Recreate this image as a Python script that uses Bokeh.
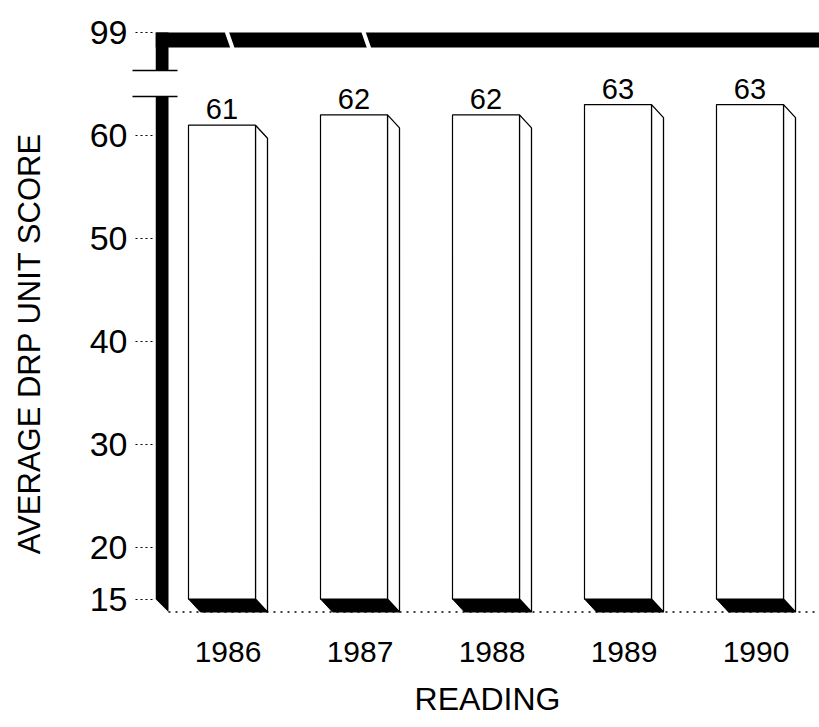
from bokeh.plotting import figure
from bokeh.layouts import column
from bokeh.models import FixedTicker, Range1d, ColumnDataSource
from bokeh.embed import file_html
from bokeh.resources import INLINE
from bokeh.core.properties import value

# ---------------- data ----------------
years = [1986, 1987, 1988, 1989, 1990]
year_labels = ["1986", "1987", "1988", "1989", "1990"]
scores = [61, 62, 62, 63, 63]
score_labels = ["61", "62", "62", "63", "63"]
low_ticks = [15, 20, 30, 40, 50, 60]
low_tick_labels = ["15", "20", "30", "40", "50", "60"]
high_ticks = [99]
high_tick_labels = ["99"]
y_title = "AVERAGE DRP UNIT SCORE"
x_title = "READING"

# ---------------- layout / style ----------------
FONT = "Liberation Sans"
W = 819
H_TOTAL = 727
LEFT = 155            # frame left (thick axis bar)
TOP_H = 72            # height of upper (99) panel
LOW_BOTTOM = 113      # bottom border of lower panel
PX_X = 132.0          # px per year
PX_Y = 10.3           # px per score unit
X_FIRST_PX = 227.5    # canvas px of first box centre
Y99_PX = 32
Y60_PX = 135

x_start = years[0] - (X_FIRST_PX - LEFT) / PX_X
x_end = years[0] + (W - X_FIRST_PX) / PX_X
xr = Range1d(x_start, x_end)

up_top = 99 + Y99_PX / PX_Y
up_bot = 99 - (TOP_H - Y99_PX) / PX_Y
low_frame_bottom_px = H_TOTAL - LOW_BOTTOM
low_top = 60 + (Y60_PX - TOP_H) / PX_Y
low_bot = 60 - (low_frame_bottom_px - Y60_PX) / PX_Y

upper_break = 99 - (70 - Y99_PX) / PX_Y
lower_break = 60 + (Y60_PX - 96) / PX_Y

FACE_L = -39.5 / PX_X
FACE_R = 27.5 / PX_X
DX = 12 / PX_X
DY = 13 / PX_Y
BASE = 15
AXIS_W = 13 / PX_X
LINE_T = 15 / PX_Y


def style_common(p):
    p.outline_line_color = None
    p.xgrid.visible = False
    p.ygrid.visible = False
    p.background_fill_color = "white"
    p.border_fill_color = "white"


def style_yaxis(ax, ticks, labels, minor):
    ax.ticker = FixedTicker(ticks=ticks, minor_ticks=minor)
    ax.major_label_overrides = {t: l for t, l in zip(ticks, labels)}
    ax.axis_line_color = None
    ax.major_tick_out = 20
    ax.major_tick_in = 0
    ax.major_tick_line_dash = "2 3"
    ax.major_tick_line_width = 1.2
    ax.minor_tick_out = 23
    ax.minor_tick_in = 22
    ax.minor_tick_line_width = 1.4
    ax.minor_tick_line_color = "black"
    ax.major_label_standoff = 5
    ax.major_label_text_font = FONT
    ax.major_label_text_font_size = "34px"
    ax.major_label_text_color = "black"


# ---------------- upper panel (99) ----------------
p_top = figure(width=W, height=TOP_H, x_range=xr, y_range=Range1d(up_bot, up_top),
               x_axis_location=None, toolbar_location=None, output_backend="svg",
               min_border=0, min_border_left=LEFT)
style_common(p_top)
style_yaxis(p_top.yaxis[0], high_ticks, high_tick_labels, [upper_break])

x0 = x_start
x1 = x_start + AXIS_W
# thick top frame line and upper part of the axis bar
p_top.quad(left=[x0], right=[x_end], top=[99], bottom=[99 - LINE_T],
           fill_color="black", line_color=None)
p_top.quad(left=[x0], right=[x1], top=[99], bottom=[upper_break],
           fill_color="black", line_color=None)
# small white break gaps in the top line
gap_x = [years[0] - 0.01, years[1] + 0.025]
p_top.segment(x0=gap_x, y0=[99 + 0.1] * 2,
              x1=[g + 0.045 for g in gap_x], y1=[99 - LINE_T - 0.1] * 2,
              line_color="white", line_width=4)

# ---------------- lower panel ----------------
p = figure(width=W, height=H_TOTAL - TOP_H, x_range=xr, y_range=Range1d(low_bot, low_top),
           toolbar_location=None, output_backend="svg",
           min_border=0, min_border_left=LEFT, min_border_bottom=LOW_BOTTOM)
style_common(p)
style_yaxis(p.yaxis[0], low_ticks, low_tick_labels, [lower_break])
p.yaxis.axis_label = y_title
p.yaxis.axis_label_text_font = FONT
p.yaxis.axis_label_text_font_size = "31px"
p.yaxis.axis_label_text_font_style = "normal"
p.yaxis.axis_label_text_color = "black"
p.yaxis.axis_label_standoff = 40

xa = p.xaxis[0]
xa.ticker = FixedTicker(ticks=years)
xa.major_label_overrides = {y: l for y, l in zip(years, year_labels)}
xa.axis_line_color = None
xa.major_tick_line_color = None
xa.minor_tick_line_color = None
xa.major_tick_out = 0
xa.major_tick_in = 0
xa.major_label_standoff = 27
xa.major_label_text_font = FONT
xa.major_label_text_font_size = "30px"
xa.major_label_text_color = "black"
xa.axis_label = x_title
xa.axis_label_text_font = FONT
xa.axis_label_text_font_size = "32px"
xa.axis_label_text_font_style = "normal"
xa.axis_label_text_color = "black"
xa.axis_label_standoff = 16

# thick axis bar, lower part with slanted 3D foot
p.patch(x=[x0, x1, x1, x0], y=[lower_break, lower_break, BASE - DY, BASE],
        fill_color="black", line_color=None)

# dotted base line
p.segment(x0=[x1], y0=[BASE - DY], x1=[x_end], y1=[BASE - DY],
          line_color="black", line_width=1.5, line_dash="2 5")

# 3D bars
fl = [y + FACE_L for y in years]
fr = [y + FACE_R for y in years]
side_xs = [[r, r + DX, r + DX, r] for r in fr]
side_ys = [[s, s - DY, BASE - DY, BASE] for s in scores]
bot_xs = [[l, r, r + DX, l + DX] for l, r in zip(fl, fr)]
bot_ys = [[BASE, BASE, BASE - DY, BASE - DY] for _ in years]

p.patches(xs=bot_xs, ys=bot_ys, fill_color="black", line_color="black", line_width=1)
p.patches(xs=side_xs, ys=side_ys, fill_color="white", line_color="black", line_width=1.3)
p.quad(left=fl, right=fr, top=scores, bottom=[BASE] * len(years),
       fill_color="white", line_color="black", line_width=1.2)

lab_src = ColumnDataSource(dict(
    x=[(l + r) / 2 for l, r in zip(fl, fr)],
    y=[s + 16 / PX_Y for s in scores],
    t=score_labels))
p.text(x="x", y="y", text="t", source=lab_src, text_font=value(FONT),
       text_font_size="29px", text_align="center", text_baseline="middle",
       text_color="black")

layout = column(p_top, p, spacing=0)
open("out.html", "w").write(file_html(layout, INLINE))
